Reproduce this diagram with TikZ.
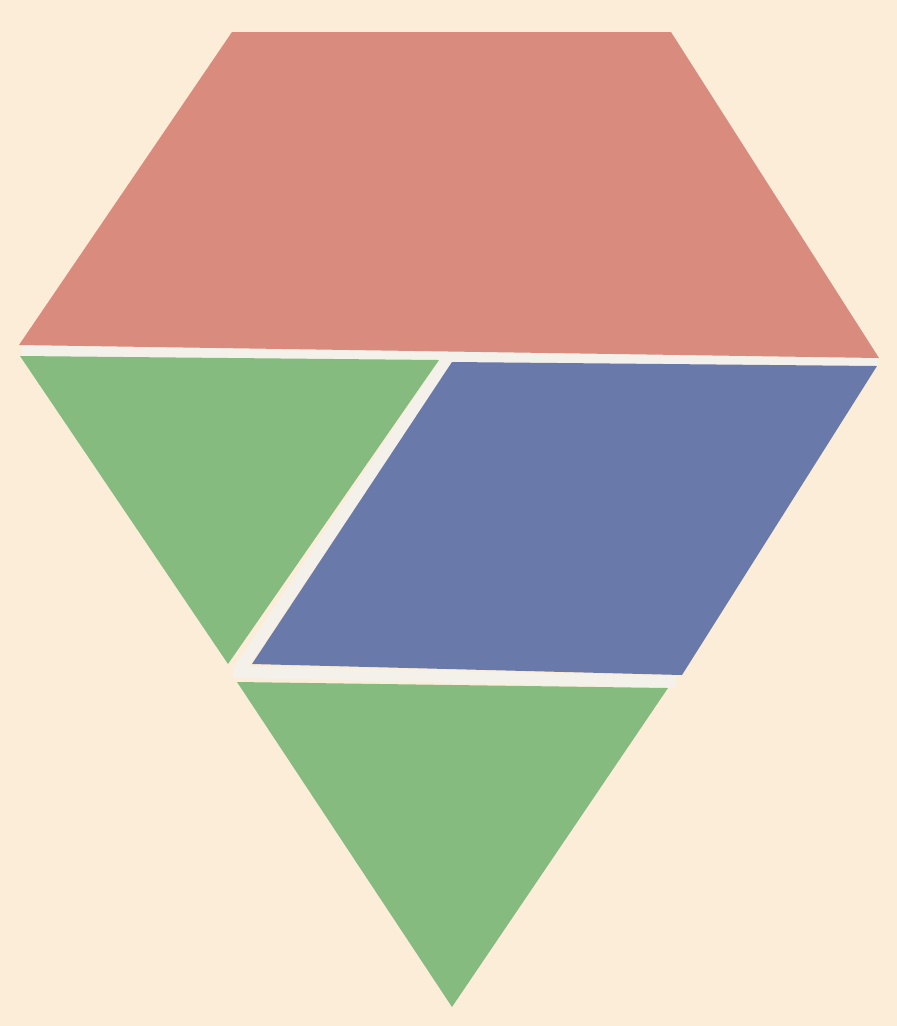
\documentclass[tikz,border=0pt]{standalone}
\usepackage{xcolor}
\usepackage{tikz}
\usetikzlibrary{calc}

\definecolor{paper}{RGB}{252,237,216}
\definecolor{trapred}{RGB}{217,139,125}
\definecolor{trigreen}{RGB}{134,187,127}
\definecolor{rhomblue}{RGB}{105,121,170}
\definecolor{seam}{RGB}{244,240,234}

\begin{document}
\begin{tikzpicture}[
    x=0.01cm, y=-0.01cm,
    block/.style={draw=none},
    gap/.style={seam, line width=0.12cm, line cap=butt}]
  \fill[paper] (0,0) rectangle (897,1026);
  \useasboundingbox (0,0) rectangle (897,1026);
  % seams between the blocks
  \draw[gap] (22,351) -- (877,362);
  \draw[gap] (446,361) -- (241,667);
  \draw[gap] (233,672) -- (676,682);
  % pattern blocks
  \fill[block, trapred] (232,32) -- (671,32) -- (879,358) -- (19,345) -- cycle;
  \fill[block, trigreen] (20,356) -- (439,360) -- (228,664) -- cycle;
  \fill[block, rhomblue] (452,362) -- (877,366) -- (682,675) -- (252,664) -- cycle;
  \fill[block, trigreen] (237,682) -- (668,688) -- (452,1007) -- cycle;
\end{tikzpicture}
\end{document}
